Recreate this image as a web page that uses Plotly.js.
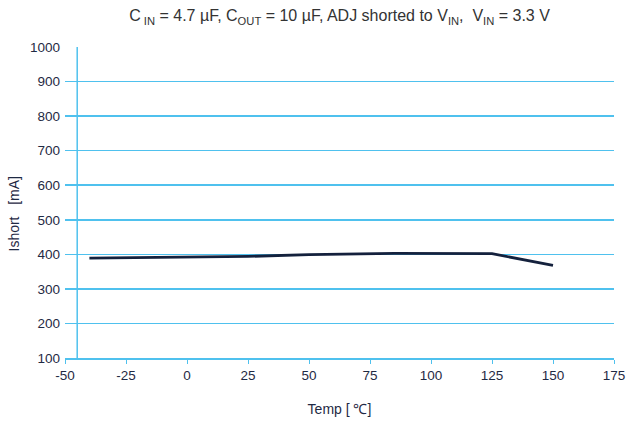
<!DOCTYPE html>
<html>
<head>
<meta charset="utf-8">
<script src="https://cdn.plot.ly/plotly-3.0.1.min.js"></script>
<style>html,body{margin:0;padding:0;background:#fff;}#chart{width:627px;height:421px;}</style>
</head>
<body>
<div id="chart"></div>
<script>
const tempC = [-40, 0, 25, 50, 85, 125, 150];
const ishortMA = [389, 391, 394, 399, 403, 402, 368];
const xTicks = [-50, -25, 0, 25, 50, 75, 100, 125, 150, 175];
const yTicks = [100, 200, 300, 400, 500, 600, 700, 800, 900, 1000];

const blue = '#4fc1ee';
const textCol = '#1f2a44';
const fam = 'Liberation Sans, Arial, sans-serif';

const trace = {
  x: tempC, y: ishortMA, type: 'scatter', mode: 'lines',
  line: {color: '#14213d', width: 2.8}, hoverinfo: 'none'
};

const layout = {
  width: 627, height: 421,
  margin: {l: 65, r: 13, t: 47, b: 63},
  paper_bgcolor: '#fff', plot_bgcolor: '#fff',
  showlegend: false,
  font: {family: fam, size: 13.5, color: textCol},
  title: {
    text: 'C<sub> IN</sub> = 4.7 µF, C<sub>OUT</sub> = 10 µF, ADJ shorted to V<sub>IN</sub>,\u00a0 V<sub>IN</sub> = 3.3 V',
    font: {family: fam, size: 16, color: '#333'},
    xref: 'paper', x: 0.5, xanchor: 'center', y: 0.963, yanchor: 'middle'
  },
  xaxis: {
    range: [-50, 175], tickvals: xTicks, ticktext: xTicks.map(String),
    showgrid: false, zeroline: false,
    showline: true, linecolor: blue, linewidth: 1.5,
    ticks: 'outside', ticklen: 4, tickcolor: blue, tickwidth: 1,
    ticklabeloverflow: 'allow',
    tickfont: {size: 13.5, color: textCol},
    title: {text: 'Temp [\u00a0℃]', font: {size: 14, color: textCol}, standoff: 22}
  },
  yaxis: {
    range: [100, 1000], tickvals: yTicks, ticktext: yTicks.map(String),
    showgrid: true, gridcolor: blue, gridwidth: 1.5, zeroline: false,
    showline: false, ticks: '', ticklabelstandoff: 4,
    tickfont: {size: 13.5, color: textCol}
  },
  annotations: [{
    text: 'Ishort\u00a0\u00a0 [mA]', xref: 'paper', yref: 'paper', x: 0, y: 0.5,
    xanchor: 'center', yanchor: 'middle', xshift: -52, yshift: -12,
    textangle: -90, showarrow: false, font: {size: 14, color: textCol}
  }],
  shapes: [{
    type: 'line', xref: 'x', yref: 'y', x0: -45, x1: -45, y0: 100, y1: 1000,
    line: {color: blue, width: 1.5}, layer: 'below'
  }]
};

Plotly.newPlot('chart', [trace], layout, {displayModeBar: false, staticPlot: true});
</script>
</body>
</html>
